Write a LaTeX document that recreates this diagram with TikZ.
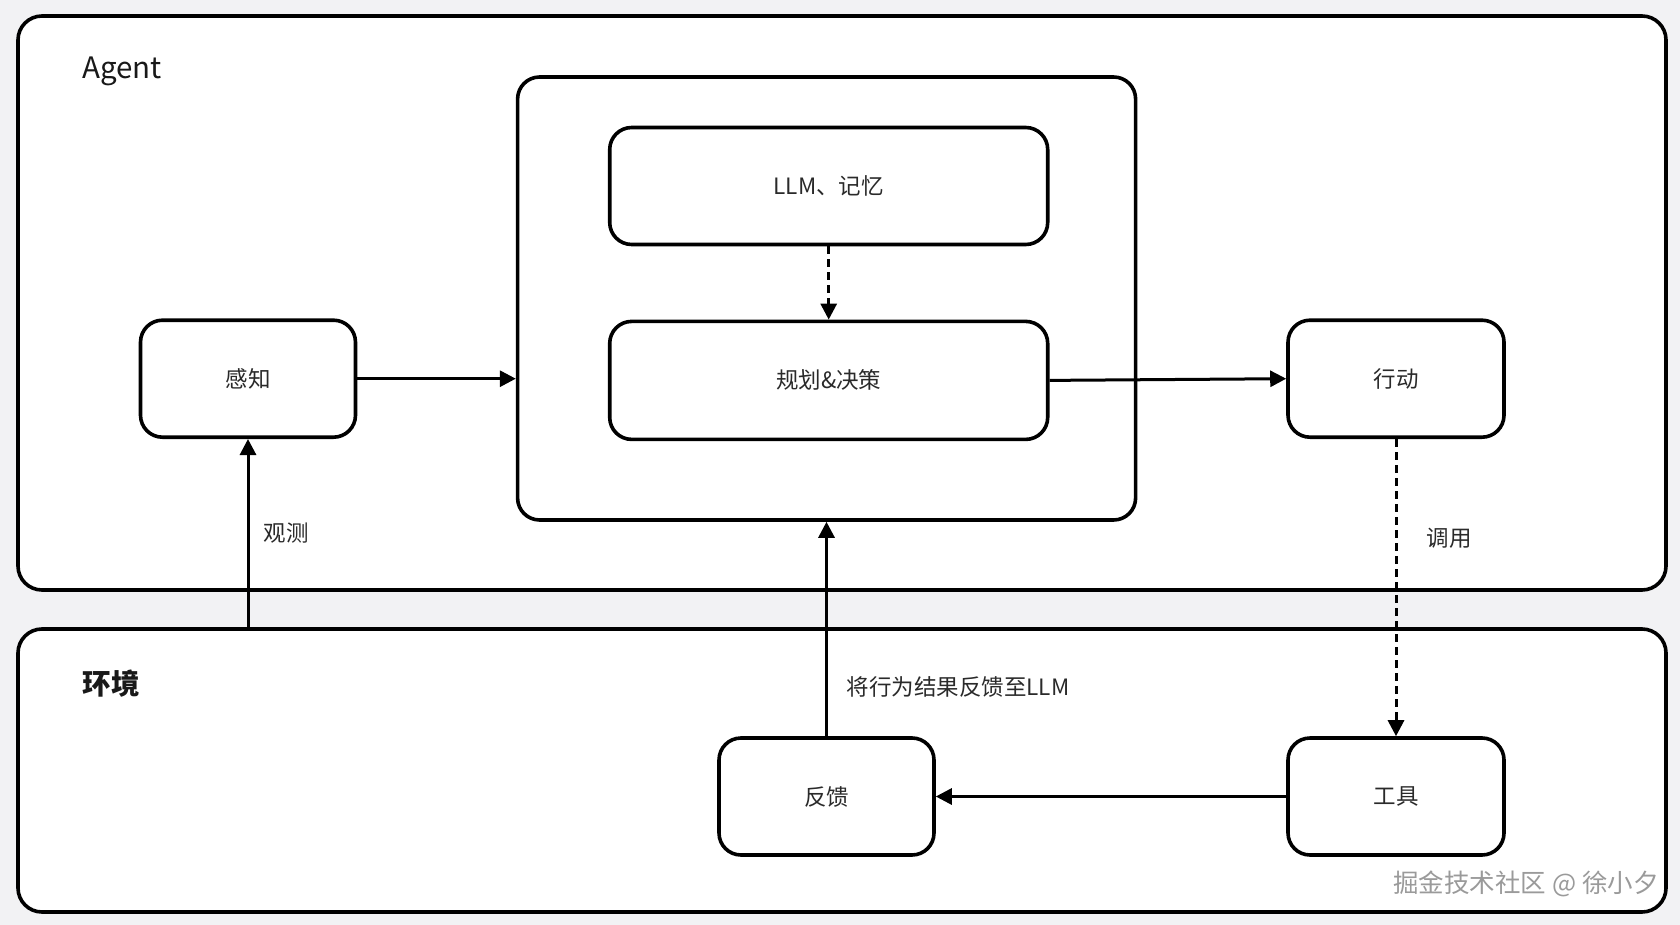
\documentclass[tikz,border=0pt]{standalone}
\usepackage{fontspec}
\setmainfont{Noto Sans CJK SC}
\usetikzlibrary{arrows.meta}
\definecolor{bgcol}{HTML}{F2F2F4}
\definecolor{txt}{HTML}{2A2A2A}
\definecolor{wm}{HTML}{9A9A9A}
\begin{document}
\begin{tikzpicture}[x=1pt,y=-1pt,
  container/.style={draw=black,line width=3.6pt,fill=white,rounded corners=24pt},
  box/.style={draw=black,line width=3.6pt,fill=white,rounded corners=22pt,inner sep=0pt,
    font=\fontsize{22.5}{26}\selectfont,text=txt},
  arr/.style={line width=3pt,-{Triangle[length=16pt,width=16pt]}},
  darr/.style={arr,dash pattern=on 8pt off 5pt},
  lbl/.style={font=\fontsize{22.5}{26}\selectfont,text=txt,inner sep=0pt}]
\fill[bgcol] (0,0) rectangle (1680,925);
\useasboundingbox (0,0) rectangle (1680,925);
% containers
\node[container,minimum width=1648pt,minimum height=574pt] (agent) at (842,303) {};
\node[container,minimum width=1648pt,minimum height=283pt] (env) at (842,770.5) {};
\node[font=\fontsize{29.5}{34}\selectfont,text=black!90,inner sep=0pt] (agentlbl) at (122,71) {Agent};
\node[font=\fontsize{28.5}{34}\selectfont\bfseries,text=black!90,inner sep=0pt] (envlbl) at (111,684) {环境};
% inner box
\node[box,minimum width=618pt,minimum height=443pt] (inner) at (826.6,298.5) {};
\node[box,minimum width=438pt,minimum height=117pt] (llm) at (828.7,186) {LLM、记忆};
\node[box,minimum width=438pt,minimum height=118pt] (plan) at (828.7,380.4) {规划\&决策};
% side boxes
\node[box,minimum width=215pt,minimum height=117pt] (gz) at (248,378.7) {感知};
\node[box,minimum width=216pt,minimum height=117pt] (xd) at (1396,378.7) {行动};
\node[box,minimum width=215pt,minimum height=117pt] (fk) at (826.5,796.5) {反馈};
\node[box,minimum width=216pt,minimum height=117pt] (gj) at (1396,796.5) {工具};
% arrows
\draw[arr] (gz.east) -- (gz.east -| inner.west);
\draw[arr] (plan.east) -- (xd.west);
\draw[darr] (llm.south) -- (plan.north);
\draw[darr] (xd.south) -- (gj.north);
\draw[arr] (gz.south |- env.north) -- (gz.south);
\draw[arr] (fk.north) -- (fk.north |- inner.south);
\draw[arr] (gj.west) -- (fk.east);
% labels
\node[lbl] (gc) at (286,533) {观测};
\node[lbl] (dy) at (1449,538) {调用};
\node[lbl] (fb) at (958,687) {将行为结果反馈至LLM};
% watermark
\node[font=\fontsize{25.5}{30}\selectfont,text=white,inner sep=0pt] (wm2) at (1527.5,885.5) {掘金技术社区 @ 徐小夕};
\node[font=\fontsize{25.5}{30}\selectfont,text=wm,inner sep=0pt] (wm1) at (1526,884) {掘金技术社区 @ 徐小夕};
\end{tikzpicture}
\end{document}
